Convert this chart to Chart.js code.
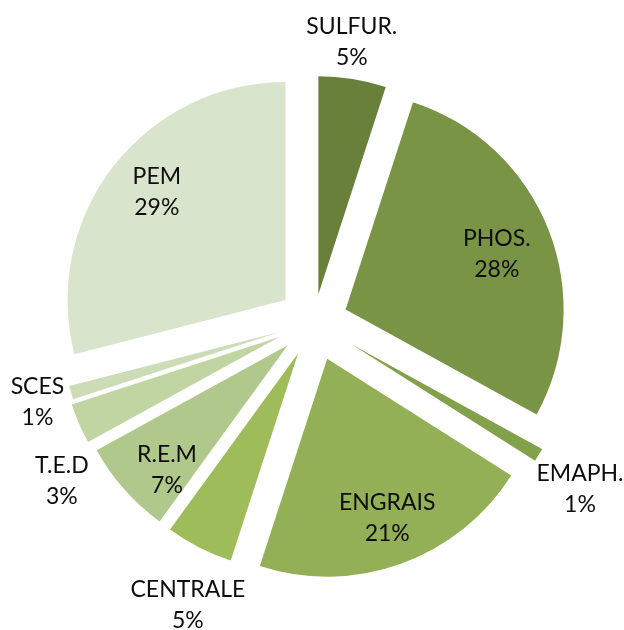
<!DOCTYPE html>
<html>
<head>
<meta charset="utf-8">
<script src="https://cdn.jsdelivr.net/npm/chart.js@4.4.0/dist/chart.umd.min.js"></script>
<style>
  html, body { margin: 0; padding: 0; background: #fff; }
  canvas { display: block; }
</style>
</head>
<body>
<canvas id="pieChart" width="624" height="630"></canvas>
<script>
// data, clockwise from 12 o'clock
const categories = ['SULFUR.', 'PHOS.', 'EMAPH.', 'ENGRAIS', 'CENTRALE', 'R.E.M', 'T.E.D', 'SCES', 'PEM'];
const shares = [5, 28, 1, 21, 5, 7, 3, 1, 29];

const sliceColors = ['#68803a', '#7a9446', '#83a04b', '#93b056', '#9ebd5a', '#b1c88c', '#c1d5a2', '#ccdcb6', '#d9e4cc'];
// pixel gap each slice is pulled out along its bisector (Excel style explosion)
const sliceExplode = [28, 34, 43, 39, 35, 35, 38, 35, 36];

// where each label sits: distance from the pie centre and a small turn (degrees) off the slice bisector
const labelRadius = [282, 195, 314, 209, 310, 209, 298, 288, 204];
const labelTurn = [-1.3, 1.2, 1.5, -0.7, -3, -3.9, -8.8, 0, 1.8];

// Chart.js "offset" also grows and narrows small arcs, so move the arcs ourselves
const explodeSlices = {
    id: 'explodeSlices',
    beforeDatasetDraw(chart, args) {
        const ctx = chart.ctx;
        args.meta.data.forEach((arc, i) => {
            const p = arc.getProps(['startAngle', 'endAngle'], true);
            const mid = (p.startAngle + p.endAngle) / 2;
            ctx.save();
            ctx.translate(Math.cos(mid) * sliceExplode[i], Math.sin(mid) * sliceExplode[i]);
            arc.draw(ctx, chart.chartArea);
            ctx.restore();
        });
        return false;
    }
};

const sliceLabels = {
    id: 'sliceLabels',
    afterDatasetsDraw(chart) {
        const ctx = chart.ctx;
        const meta = chart.getDatasetMeta(0);
        ctx.save();
        ctx.font = '23px Lato';
        ctx.fillStyle = '#0d0d0d';
        ctx.textAlign = 'center';
        ctx.textBaseline = 'middle';
        meta.data.forEach((arc, i) => {
            const p = arc.getProps(['x', 'y', 'startAngle', 'endAngle'], true);
            const a = (p.startAngle + p.endAngle) / 2 + labelTurn[i] * Math.PI / 180;
            const x = p.x + labelRadius[i] * Math.cos(a);
            const y = p.y + labelRadius[i] * Math.sin(a);
            ctx.fillText(categories[i], x, y - 15.5);
            ctx.fillText(shares[i] + '%', x, y + 15.5);
        });
        ctx.restore();
    }
};

new Chart(document.getElementById('pieChart'), {
    type: 'pie',
    data: {
        labels: categories,
        datasets: [{
            data: shares,
            backgroundColor: sliceColors,
            borderWidth: 0,
            clip: false
        }]
    },
    options: {
        responsive: false,
        animation: false,
        radius: 218,
        layout: { padding: { top: 14, left: 4, right: 0, bottom: 0 } },
        plugins: {
            legend: { display: false },
            tooltip: { enabled: false }
        }
    },
    plugins: [explodeSlices, sliceLabels]
});
</script>
</body>
</html>
